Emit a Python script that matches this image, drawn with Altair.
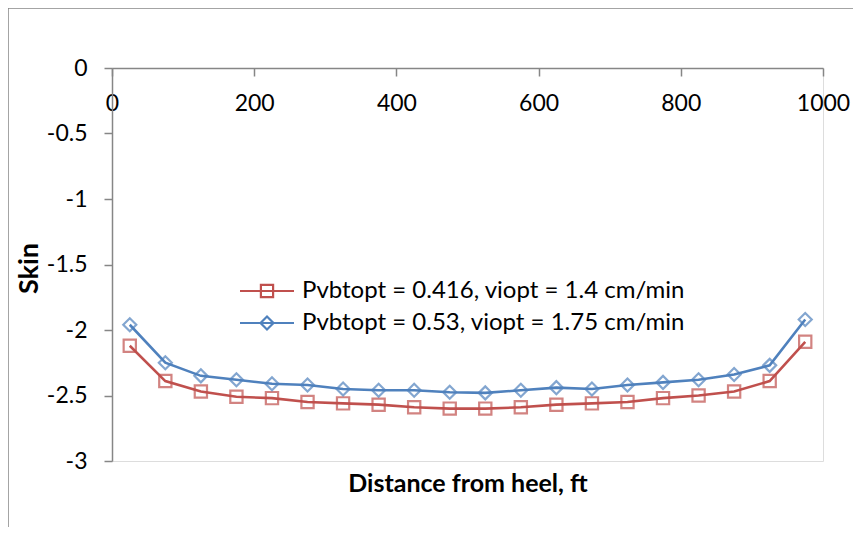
import altair as alt
import pandas as pd

# ---- data ----
distance = [25, 75, 125, 175, 225, 275, 325, 375, 425, 475,
            525, 575, 625, 675, 725, 775, 825, 875, 925, 975]
series_a = "Pvbtopt = 0.416, viopt = 1.4 cm/min"
series_b = "Pvbtopt = 0.53, viopt = 1.75 cm/min"
skin_a = [-2.12, -2.39, -2.47, -2.51, -2.52, -2.55, -2.56, -2.57, -2.59, -2.60,
          -2.60, -2.59, -2.57, -2.56, -2.55, -2.52, -2.50, -2.47, -2.39, -2.09]
skin_b = [-1.96, -2.25, -2.35, -2.38, -2.41, -2.42, -2.45, -2.46, -2.46, -2.475,
          -2.48, -2.46, -2.44, -2.45, -2.42, -2.40, -2.38, -2.34, -2.27, -1.92]
x_ticks = [0, 200, 400, 600, 800, 1000]
y_ticks = [0, -0.5, -1, -1.5, -2, -2.5, -3]
series_colors = ["#C0504D", "#4F81BD"]

df = pd.DataFrame({
    "distance": distance * 2,
    "skin": skin_a + skin_b,
    "series": [series_a] * len(distance) + [series_b] * len(distance),
})

W, H = 711, 393
FONT = "Lato"
AXIS_GRAY = "#868686"

color_scale = alt.Scale(domain=[series_a, series_b], range=series_colors)

x_enc = alt.X(
    "distance:Q",
    scale=alt.Scale(domain=[0, 1000], nice=False),
    axis=alt.Axis(
        values=x_ticks, orient="bottom", offset=-H, grid=False, format="d",
        title="Distance from heel, ft", titleY=423, titleBaseline="alphabetic",
        titleFont=FONT, titleFontSize=25, titleFontWeight="bold", titleColor="black",
        tickSize=8, tickColor=AXIS_GRAY, domainColor=AXIS_GRAY, domainWidth=1.5, tickWidth=1.5,
        labelFont=FONT, labelFontSize=23, labelColor="black", labelPadding=16,
        labelBaseline="top", labelFlush=False,
    ),
)
y_enc = alt.Y(
    "skin:Q",
    scale=alt.Scale(domain=[-3, 0], nice=False),
    axis=alt.Axis(
        values=y_ticks, grid=False,
        title="Skin", titleX=-83, titleY=200, titleBaseline="middle", titleAlign="center",
        titleAngle=270,
        titleFont=FONT, titleFontSize=27, titleFontWeight="bold", titleColor="black",
        tickSize=8, tickColor=AXIS_GRAY, domainColor=AXIS_GRAY, domainWidth=1.5, tickWidth=1.5,
        labelFont=FONT, labelFontSize=23, labelColor="black", labelPadding=17,
        labelExpr="datum.value < 0 ? '-' + abs(datum.value) : '' + datum.value",
    ),
)

# legend symbols: a short line with the series marker on it
# (symbol box is 20px; the path reaches beyond it so the line is ~54px long)
sq_path = "M-2.7,0H2.7M-0.61,-0.61H0.61V0.61H-0.61Z"
di_path = "M-2.7,0H2.7M-0.65,0L0,-0.65L0.65,0L0,0.65Z"

legend = alt.Legend(
    orient="none", legendX=143, legendY=211, title=None, padding=0,
    symbolSize=400, rowPadding=8, labelOffset=23, symbolOpacity=1, labelLimit=0,
    labelFont=FONT, labelFontSize=24, labelColor="black", symbolStrokeWidth=2.2,
    symbolFillColor="transparent",
)

base = alt.Chart(df)
edge = alt.Chart(pd.DataFrame({"k": [0]}))

# invisible layer that only carries the legend (first, so its legend settings win)
legend_layer = base.mark_point(
    filled=False, size=400, strokeWidth=2.2, opacity=0
).encode(
    x=x_enc, y=y_enc,
    color=alt.Color("series:N", scale=color_scale, legend=legend),
    shape=alt.Shape("series:N", scale=alt.Scale(domain=[series_a, series_b], range=[sq_path, di_path]),
                    legend=legend),
)

frame_top = edge.mark_rule(color=AXIS_GRAY, strokeWidth=1.5).encode(
    x=alt.value(-104), x2=alt.value(W + 60), y=alt.value(-60)
)
frame_left = edge.mark_rule(color=AXIS_GRAY, strokeWidth=1.5).encode(
    x=alt.value(-104), y=alt.value(-60), y2=alt.value(H + 100)
)

lines = base.mark_line(strokeWidth=2.6).encode(
    x="distance:Q", y="skin:Q",
    color=alt.Color("series:N", scale=color_scale),
)

points_a = base.transform_filter(alt.datum.series == series_a).mark_point(
    shape="square", filled=False, size=150, strokeWidth=2.2
).encode(x="distance:Q", y="skin:Q",
         color=alt.Color("series:N", scale=color_scale))

points_b = base.transform_filter(alt.datum.series == series_b).mark_point(
    shape="diamond", filled=False, size=170, strokeWidth=2.2
).encode(x="distance:Q", y="skin:Q",
         color=alt.Color("series:N", scale=color_scale))

chart = alt.layer(legend_layer, frame_top, frame_left, lines, points_a, points_b).properties(
    width=W, height=H,
    autosize=alt.AutoSizeParams(type="none"),
    padding={"left": 104, "top": 60, "right": 30, "bottom": 66},
).configure_view(stroke=None).configure(background="white")

chart.save("out.html", embed_options={"renderer": "svg", "actions": False})
